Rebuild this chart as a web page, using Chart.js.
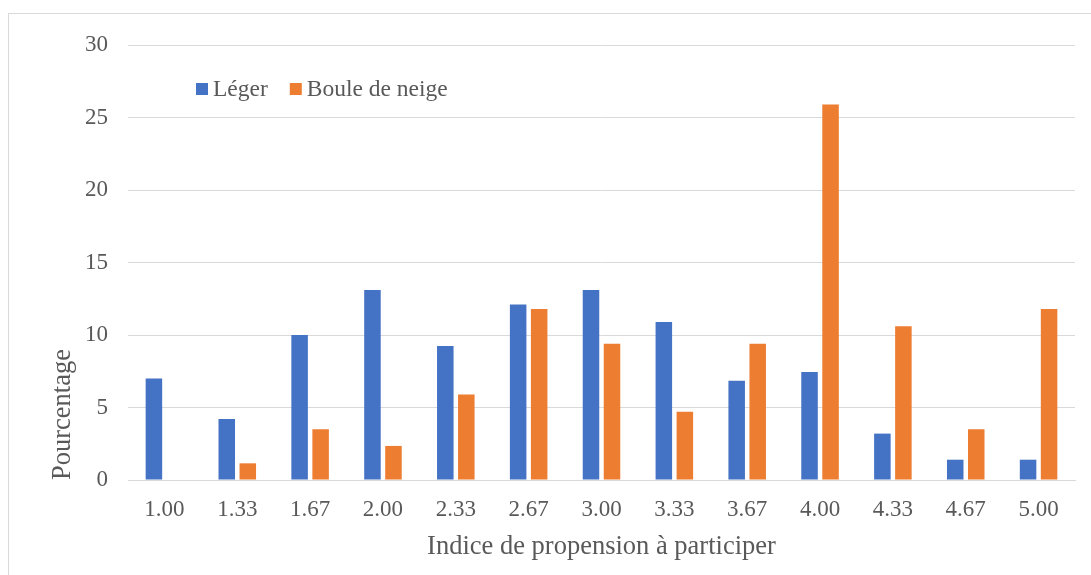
<!DOCTYPE html>
<html>
<head>
<meta charset="utf-8">
<script src="https://cdn.jsdelivr.net/npm/chart.js@4.4.0/dist/chart.umd.min.js"></script>
<style>
  html, body { margin: 0; padding: 0; background: #fff; overflow: hidden; }
  #wrap { position: relative; width: 1091px; height: 575px; }
  #frame { position: absolute; left: 8px; top: 13px; width: 1200px; height: 700px; border: 1px solid #d9d9d9; box-sizing: border-box; }
  canvas { position: relative; }
</style>
</head>
<body>
<div id="wrap">
  <div id="frame"></div>
  <canvas id="barChart" width="1091" height="575"></canvas>
</div>
<script>
// catégories et valeurs
const categories = ['1.00', '1.33', '1.67', '2.00', '2.33', '2.67', '3.00', '3.33', '3.67', '4.00', '4.33', '4.67', '5.00'];
const leger = [7.0, 4.2, 10.0, 13.1, 9.25, 12.1, 13.1, 10.9, 6.85, 7.45, 3.2, 1.4, 1.4];
const bouleDeNeige = [0, 1.15, 3.5, 2.35, 5.9, 11.8, 9.4, 4.7, 9.4, 25.9, 10.6, 3.5, 11.8];
const seriesNames = ['Léger', 'Boule de neige'];
const seriesColors = ['#4472C4', '#ED7D31'];

const serif = "'Liberation Serif', serif";
const textColor = '#595959';

// légende dessinée dans la zone du graphique, en haut à gauche
const insideLegend = {
  id: 'insideLegend',
  afterDraw(chart) {
    const ctx = chart.ctx;
    let x = 196;
    const y = 89;
    ctx.save();
    ctx.font = "23.5px 'Liberation Serif', serif";
    ctx.textBaseline = 'middle';
    ctx.textAlign = 'left';
    chart.data.datasets.forEach(function(ds) {
      ctx.fillStyle = ds.backgroundColor;
      ctx.fillRect(x, y - 6, 12, 12);
      ctx.fillStyle = textColor;
      ctx.fillText(ds.label, x + 17, y + 1);
      x += 17 + ctx.measureText(ds.label).width + 22;
    });
    ctx.restore();
  }
};

var barChart = new Chart(document.getElementById('barChart'), {
  type: 'bar',
  data: {
    labels: categories,
    datasets: [
      { label: seriesNames[0], data: leger, backgroundColor: seriesColors[0] },
      { label: seriesNames[1], data: bouleDeNeige, backgroundColor: seriesColors[1] }
    ]
  },
  options: {
    responsive: false,
    animation: false,
    layout: { padding: { top: 45, right: 16, bottom: 12, left: 47 } },
    datasets: {
      bar: { categoryPercentage: 0.577, barPercentage: 0.786 }
    },
    plugins: {
      legend: { display: false },
      tooltip: { enabled: false }
    },
    scales: {
      x: {
        grid: { display: false, drawTicks: false },
        border: { display: true, color: '#d9d9d9', width: 1 },
        ticks: { color: textColor, font: { family: serif, size: 23 }, padding: 16 },
        title: {
          display: true,
          text: 'Indice de propension à participer',
          color: textColor,
          font: { family: serif, size: 26.5 },
          padding: { top: 6, bottom: 0 }
        },
        afterFit: function(scale) { scale.height = 83; }
      },
      y: {
        min: 0,
        max: 30,
        ticks: { stepSize: 5, color: textColor, font: { family: serif, size: 23 }, padding: 20 },
        grid: { color: '#d9d9d9', lineWidth: 1, drawTicks: false },
        border: { display: false },
        title: {
          display: true,
          text: 'Pourcentage',
          align: 'start',
          color: textColor,
          font: { family: serif, size: 26.5 },
          padding: { top: 0, bottom: 0 }
        },
        afterFit: function(scale) { scale.width = 81; }
      }
    }
  },
  plugins: [insideLegend]
});
</script>
</body>
</html>
